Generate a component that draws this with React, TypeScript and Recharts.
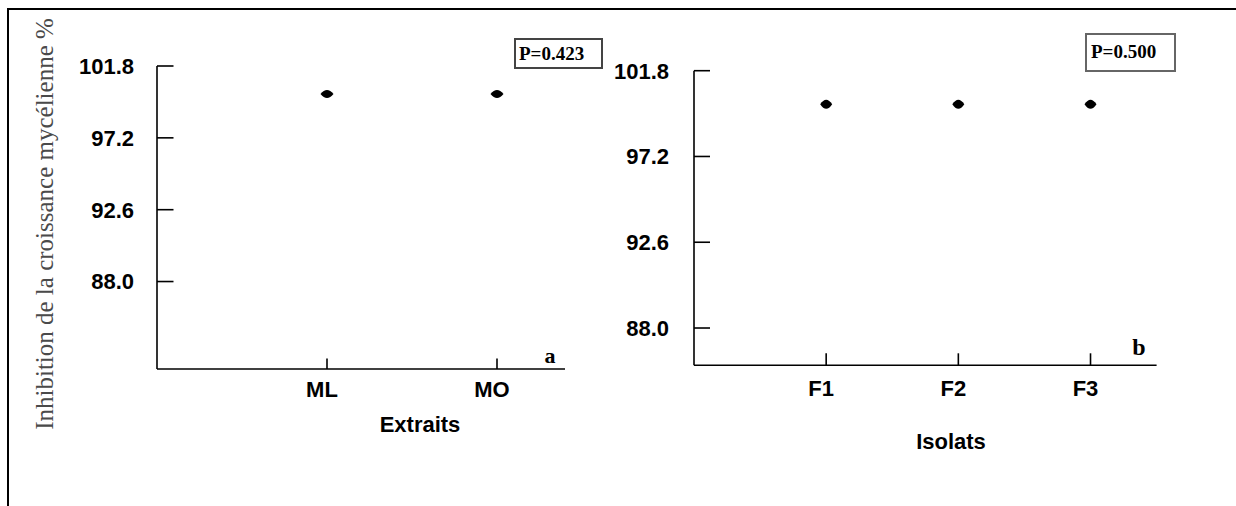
import React from "react";
import { ScatterChart, Scatter, XAxis, YAxis } from "recharts";

// panel a
const extraits = ["ML", "MO"];
const extraitValues = [100.0, 100.0];
// panel b
const isolats = ["F1", "F2", "F3"];
const isolatValues = [100.0, 100.0, 100.0];

const yTicks = [88.0, 92.6, 97.2, 101.8];
const pValueA = "P=0.423";
const pValueB = "P=0.500";

const dataA = extraits.map((name, i) => ({ x: i + 1, y: extraitValues[i], name }));
const dataB = isolats.map((name, i) => ({ x: i + 1, y: isolatValues[i], name }));

const sans = '"Liberation Sans", Arial, sans-serif';
const serif = '"Liberation Serif", "Times New Roman", serif';

function YTick({ x, y, payload, len, gap }: any) {
  return (
    <g>
      <line x1={x} y1={y} x2={x + len} y2={y} stroke="#000" strokeWidth={1.6} />
      <text x={x - gap} y={y} dy="0.36em" textAnchor="end" fontFamily={sans} fontWeight="bold" fontSize={22} fill="#000">
        {Number(payload.value).toFixed(1)}
      </text>
    </g>
  );
}

function XTick({ x, y, payload, len, names, dy }: any) {
  const label = names[payload.value - 1] ?? "";
  return (
    <g>
      <line x1={x} y1={y} x2={x} y2={y - len} stroke="#000" strokeWidth={1.6} />
      <text x={x - 5} y={y + dy} dy="0.36em" textAnchor="middle" fontFamily={sans} fontWeight="bold" fontSize={22} fill="#000">
        {label}
      </text>
    </g>
  );
}

const Lens = ({ cx, cy, rx = 6.5, ry = 4 }: any) => (
  <path
    d={`M${cx - rx},${cy} Q${cx},${cy - ry * 2} ${cx + rx},${cy} Q${cx},${cy + ry * 2} ${cx - rx},${cy} Z`}
    fill="#000"
  />
);

const abs = (left: number, top: number): React.CSSProperties => ({ position: "absolute", left, top });

export default function App() {
  return (
    <div style={{ position: "absolute", left: 0, top: 0, width: 1236, height: 506, background: "#fff", overflow: "hidden" }}>
      {/* outer frame */}
      <div style={{ position: "absolute", left: 7, top: 8, width: 1229, height: 498, borderTop: "2px solid #000", borderLeft: "2px solid #000" }} />

      {/* panel a */}
      <div style={abs(0, 0)}>
        <ScatterChart width={620} height={506} margin={{ top: 66, left: 156, right: 55, bottom: 136 }}>
          <XAxis
            type="number"
            dataKey="x"
            domain={[0, 2.4]}
            ticks={[1, 2]}
            interval={0}
            height={1}
            tickSize={0}
            tickMargin={0}
            tickLine={false}
            axisLine={{ stroke: "#000", strokeWidth: 1.6 }}
            tick={<XTick len={10.5} names={extraits} dy={19.6} />}
          />
          <YAxis
            type="number"
            dataKey="y"
            domain={[82.4, 101.8]}
            ticks={yTicks}
            interval={0}
            width={1}
            tickSize={0}
            tickMargin={0}
            tickLine={false}
            axisLine={{ stroke: "#000", strokeWidth: 1.6 }}
            tick={<YTick len={16.5} gap={23} />}
          />
          <Scatter data={dataA} isAnimationActive={false} shape={(p: any) => <Lens cx={p.cx} cy={p.cy} rx={6.5} ry={4} />} />
        </ScatterChart>
      </div>

      {/* panel b */}
      <div style={abs(600, 0)}>
        <ScatterChart width={636} height={506} margin={{ top: 70.7, left: 93, right: 79.4, bottom: 139.7 }}>
          <XAxis
            type="number"
            dataKey="x"
            domain={[0, 3.5]}
            ticks={[1, 2, 3]}
            interval={0}
            height={1}
            tickSize={0}
            tickMargin={0}
            tickLine={false}
            axisLine={{ stroke: "#000", strokeWidth: 1.6 }}
            tick={<XTick len={12} names={isolats} dy={22.7} />}
          />
          <YAxis
            type="number"
            dataKey="y"
            domain={[86.0, 101.8]}
            ticks={yTicks}
            interval={0}
            width={1}
            tickSize={0}
            tickMargin={0}
            tickLine={false}
            axisLine={{ stroke: "#000", strokeWidth: 1.6 }}
            tick={<YTick len={16} gap={25} />}
          />
          <Scatter data={dataB} isAnimationActive={false} shape={(p: any) => <Lens cx={p.cx} cy={p.cy} rx={6} ry={4.5} />} />
        </ScatterChart>
      </div>

      {/* y axis title */}
      <div
        style={{
          position: "absolute",
          left: 43.5,
          top: 224,
          transform: "translate(-50%, -50%) rotate(-90deg)",
          whiteSpace: "nowrap",
          fontFamily: serif,
          fontSize: 25,
          color: "#4a4a4a",
          lineHeight: 1,
        }}
      >
        Inhibition de la croissance mycélienne %
      </div>

      {/* axis titles */}
      <div style={{ ...abs(420, 425), transform: "translate(-50%, -50%)", fontFamily: sans, fontWeight: "bold", fontSize: 22, lineHeight: 1 }}>Extraits</div>
      <div style={{ ...abs(951, 442), transform: "translate(-50%, -50%)", fontFamily: sans, fontWeight: "bold", fontSize: 22, lineHeight: 1 }}>Isolats</div>

      {/* panel letters */}
      <div style={{ ...abs(550, 356), transform: "translate(-50%, -50%)", fontFamily: serif, fontWeight: "bold", fontSize: 22, lineHeight: 1 }}>a</div>
      <div style={{ ...abs(1139, 347), transform: "translate(-50%, -50%)", fontFamily: serif, fontWeight: "bold", fontSize: 24, lineHeight: 1 }}>b</div>

      {/* p-value boxes */}
      <div
        style={{
          ...abs(514, 38),
          width: 89,
          height: 31,
          boxSizing: "border-box",
          border: "2px solid #444",
          fontFamily: serif,
          fontWeight: "bold",
          fontSize: 19,
          lineHeight: "27px",
          paddingLeft: 3,
        }}
      >
        {pValueA}
      </div>
      <div
        style={{
          ...abs(1085, 33),
          width: 91,
          height: 39,
          boxSizing: "border-box",
          border: "2.5px solid #666",
          fontFamily: serif,
          fontWeight: "bold",
          fontSize: 19,
          lineHeight: "34px",
          paddingLeft: 4,
        }}
      >
        {pValueB}
      </div>
    </div>
  );
}
